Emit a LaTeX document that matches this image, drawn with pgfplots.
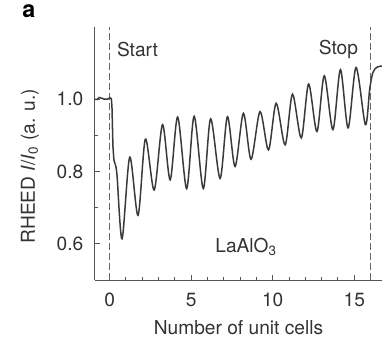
\documentclass[border=0pt]{standalone}
\usepackage{pgfplots}
\pgfplotsset{compat=1.18}
\usepackage{fontspec}
\setmainfont{TeX Gyre Heros}
\definecolor{curve}{HTML}{3A3A3A}
\definecolor{axgray}{HTML}{555555}
\definecolor{dashgray}{HTML}{666666}
\definecolor{txt}{HTML}{333333}
\begin{document}
\fontsize{11.5}{13.8}\selectfont
\begin{tikzpicture}
\useasboundingbox (-57pt,-37.8pt) rectangle (172.2pt,168pt);
\begin{axis}[
 at={(0pt,0pt)}, anchor=south west,
 scale only axis, width=172.2pt, height=151.8pt,
 xmin=-0.9, xmax=16.7, ymin=0.5, ymax=1.2,
 axis x line*=bottom, axis y line*=left,
 axis line style={axgray, line width=0.6pt, -},
 xtick={0,5,10,15}, ytick={0.6,0.8,1.0},
 minor xtick={1,2,3,4,6,7,8,9,11,12,13,14,16},
 minor ytick={0.7,0.9},
 tick align=inside,
 major tick length=3pt, minor tick length=2pt,
 tick style={axgray, line width=0.6pt},
 yticklabel={\pgfmathprintnumber[fixed,fixed zerofill,precision=1]{\tick}},
 /pgf/number format/assume math mode=true,
 ticklabel style={font=\fontsize{11.5}{13}\selectfont, text=txt},
 xticklabel style={yshift=-4pt},
 yticklabel style={xshift=-3pt},
 xlabel={Number of unit cells},
 ylabel={RHEED \textit{I}/\textit{I}\textsubscript{0} (a. u.)},
 label style={font=\fontsize{11.5}{13}\selectfont, text=txt},
 xlabel style={at={(axis description cs:0.5,-0.19)}, anchor=center},
 ylabel style={at={(axis description cs:-0.2265,0.45)}, anchor=center},
 clip mode=individual,
]
\addplot[dashgray, line width=0.6pt, dash pattern=on 4pt off 2pt] coordinates {(0,0.5) (0,1.2)};
\addplot[dashgray, line width=0.6pt, dash pattern=on 4pt off 2pt] coordinates {(16,0.5) (16,1.2)};
\addplot[curve, line width=0.9pt] coordinates {
(-0.9,1.0) (-0.75,1.0) (-0.65,1.005) (-0.5,1.003) (-0.3,1.0) (-0.1,1.001) (0.02,1.004) (0.1,1.002)
(0.14,0.98) (0.2,0.87) (0.26,0.832) (0.34,0.82)
};
\addplot[curve, line width=0.9pt, smooth, tension=0.5] coordinates {
(0.34,0.82) (0.45,0.79)
(0.76,0.614) (1.23,0.840) (1.74,0.679) (2.19,0.890) (2.73,0.749) (3.24,0.930)
(3.71,0.777) (4.17,0.951) (4.72,0.753) (5.18,0.953) (5.74,0.753) (6.19,0.946)
(6.77,0.781) (7.22,0.952) (7.69,0.814) (8.20,0.961) (8.67,0.834) (9.22,0.966)
(9.74,0.860) (10.21,0.989) (10.76,0.874) (11.21,1.014) (11.75,0.893) (12.20,1.042)
(12.71,0.911) (13.16,1.065) (13.69,0.916) (14.15,1.082) (14.62,0.921) (15.11,1.088)
(15.68,0.930) (15.95,1.03) (16.15,1.075) (16.4,1.089) (16.7,1.092)
};
\node[anchor=west, inner sep=0pt, text=txt] at (axis cs:0.43,1.137) {Start};
\node[anchor=east, inner sep=0pt, text=txt] at (axis cs:15.25,1.137) {Stop};
\node[anchor=base west, inner sep=0pt, text=txt] at (axis cs:6.46,0.5754) {LaAlO\textsubscript{3}};
\end{axis}
\node[anchor=base west, inner sep=0pt, text=black, font=\bfseries\fontsize{14}{16}\selectfont] at (-43.8pt,157.2pt) {a};
\end{tikzpicture}
\end{document}
